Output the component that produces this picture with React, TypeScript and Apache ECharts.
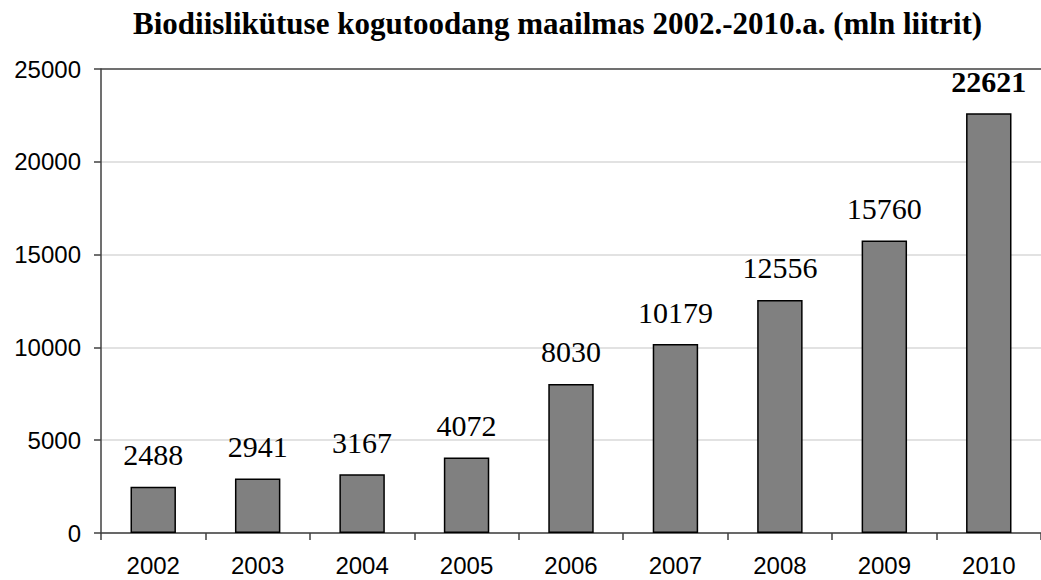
import React, { useEffect, useRef } from "react";
import * as echarts from "echarts";

const titleText = "Biodiislikütuse kogutoodang maailmas 2002.-2010.a. (mln liitrit)";
const years = ["2002", "2003", "2004", "2005", "2006", "2007", "2008", "2009", "2010"];
const production = [2488, 2941, 3167, 4072, 8030, 10179, 12556, 15760, 22621];
const boldIndex = 8;

export default function App() {
  const ref = useRef<HTMLDivElement>(null);
  useEffect(() => {
    if (!ref.current) return;
    const chart = echarts.init(ref.current, undefined, { renderer: "svg" });
    chart.setOption({
      animation: false,
      backgroundColor: "#ffffff",
      title: {
        text: titleText,
        left: 133,
        top: 8,
        padding: 0,
        textStyle: {
          fontFamily: "Liberation Serif",
          fontWeight: "bold",
          fontSize: 31,
          color: "#000",
        },
      },
      grid: { left: 101, top: 69, width: 950, height: 464, containLabel: false },
      xAxis: {
        type: "category",
        data: years,
        axisLine: { lineStyle: { color: "#404040", width: 1.5 } },
        axisTick: { show: true, length: 7, lineStyle: { color: "#404040", width: 1.5 } },
        axisLabel: {
          fontFamily: "Liberation Sans",
          fontSize: 24,
          color: "#000",
          margin: 20,
        },
      },
      yAxis: {
        type: "value",
        min: 0,
        max: 25000,
        interval: 5000,
        axisLine: { show: true, lineStyle: { color: "#404040", width: 1.5 } },
        axisTick: { show: true, length: 7, lineStyle: { color: "#404040", width: 1.5 } },
        axisLabel: {
          fontFamily: "Liberation Sans",
          fontSize: 24,
          color: "#000",
          margin: 20,
          formatter: (v: number) => String(v),
        },
        splitLine: {
          lineStyle: {
            color: ["#d9d9d9", "#d9d9d9", "#d9d9d9", "#d9d9d9", "#d9d9d9", "#404040"],
            width: 1.5,
          },
        },
      },
      series: [
        {
          type: "bar",
          data: production.map((v, i) => ({
            value: v,
            label: i === boldIndex ? { fontWeight: "bold" } : undefined,
          })),
          barWidth: "43.5%",
          itemStyle: { color: "#808080", borderColor: "#000", borderWidth: 1.5 },
          label: {
            show: true,
            position: "top",
            distance: 17,
            fontFamily: "Liberation Serif",
            fontSize: 30,
            color: "#000",
          },
        },
      ],
    });
    return () => chart.dispose();
  }, []);
  return (
    <div
      ref={ref}
      style={{ position: "fixed", left: 0, top: 0, width: 1041, height: 580 }}
    />
  );
}
